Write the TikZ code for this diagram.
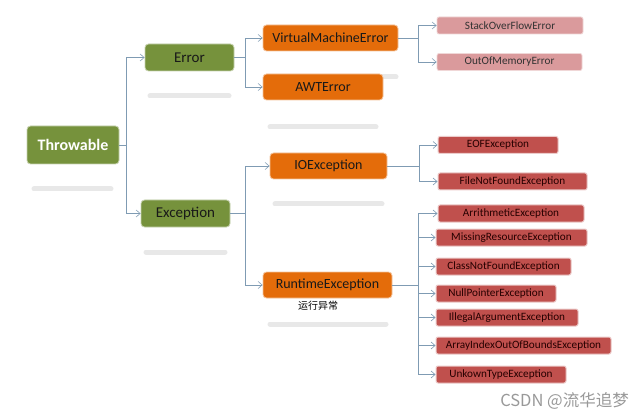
\documentclass[tikz,border=0pt]{standalone}
\usepackage{fontspec}
\setmainfont{Carlito}
\newfontfamily\cjk{Noto Sans CJK SC}
\usetikzlibrary{arrows.meta}
\definecolor{grn}{HTML}{76923C}
\definecolor{orng}{HTML}{E46C0A}
\definecolor{rd}{HTML}{C0504D}
\definecolor{lrd}{HTML}{DA9A9C}
\definecolor{lnc}{HTML}{7F9BB3}
\definecolor{shd}{HTML}{E8E8E8}
\tikzset{
  boxbase/.style={rounded corners=3.5pt, inner sep=0pt, anchor=center},
  gbox/.style={boxbase, fill=grn, draw=grn!40, line width=0.8pt, text=black!90, font=\fontsize{15}{17}\selectfont},
  obox/.style={boxbase, fill=orng, draw=orng!40, line width=0.8pt, minimum height=26pt, text=black!90, font=\fontsize{14}{16}\selectfont},
  rbox/.style={boxbase, rounded corners=2pt, fill=rd, draw=rd!30, line width=1pt, minimum height=17pt, text=black!85!red, font=\fontsize{11.2}{13}\selectfont},
  pbox/.style={boxbase, rounded corners=2pt, fill=lrd, draw=lrd!40, line width=0.8pt, minimum height=17pt, text=black!80, font=\fontsize{11.2}{13}\selectfont},
  conn/.style={draw=lnc, line width=0.6pt, -{Straight Barb[length=4pt,width=7pt]}},
  shadowbar/.style={draw=shd, line width=5pt, line cap=round},
}
\begin{document}
\begin{tikzpicture}[x=1pt,y=-1pt]
\useasboundingbox[fill=white] (0,0) rectangle (643,417);
% blurred reflections
\draw[shadowbar] (34,189) -- (111,189);
\draw[shadowbar] (150,96) -- (229,96);
\draw[shadowbar] (146,252) -- (225,252);
\draw[shadowbar] (268,77) -- (396,77);
\draw[shadowbar] (270,127) -- (376,127);
\draw[shadowbar] (275,204) -- (382,204);
\draw[shadowbar] (270,324) -- (386,324);
% level 0/1
\node[gbox, minimum width=92pt, minimum height=38pt, text=white, font=\fontsize{16}{18}\selectfont\bfseries] (thr) at (73,145) {Throwable};
\node[gbox, minimum width=89pt, minimum height=27pt] (err) at (189.5,57.5) {Error};
\node[gbox, minimum width=89pt, minimum height=27pt] (exc) at (185.5,213.5) {Exception};
% level 2
\node[obox, minimum width=135pt] (vme) at (330.5,38) {VirtualMachineError};
\node[obox, minimum width=120pt] (awt) at (323,87) {AWTError};
\node[obox, minimum width=117pt] (ioe) at (328.5,166) {IOException};
\node[obox, minimum width=129pt] (rte) at (327.5,285) {RuntimeException};
\node[font=\cjk\fontsize{10}{12}\selectfont, inner sep=0pt] (rtl) at (318,306) {运行异常};
% level 3
\node[pbox, minimum width=146pt] (sof) at (510,25.5) {StackOverFlowError};
\node[pbox, minimum width=145pt] (oom) at (509.5,62) {OutOfMemoryError};
\node[rbox, minimum width=120pt] (eof) at (498,145) {EOFException};
\node[rbox, minimum width=149pt] (fnf) at (512.5,181.5) {FileNotFoundException};
\node[rbox, minimum width=146pt] (ari) at (511,213.5) {ArrithmeticException};
\node[rbox, minimum width=151pt] (mis) at (511.5,237.5) {MissingResourceException};
\node[rbox, minimum width=135pt] (cnf) at (503.5,266.5) {ClassNotFoundException};
\node[rbox, minimum width=120pt] (npe) at (496,293.5) {NullPointerException};
\node[rbox, minimum width=142pt] (iae) at (507,317.5) {IllegalArgumentException};
\node[rbox, minimum width=175pt] (aio) at (523.5,345.5) {ArrayIndexOutOfBoundsException};
\node[rbox, minimum width=130pt] (ute) at (501,374.5) {UnkownTypeException};
% connectors
\draw[conn] (thr.east) -- ++(7,0) |- (err.west);
\draw[conn] (thr.east) -- ++(7,0) |- (exc.west);
\draw[conn] (err.east) -- ++(11,0) |- (vme.west);
\draw[conn] (err.east) -- ++(11,0) |- (awt.west);
\draw[conn] (exc.east) -- ++(15,0) |- (ioe.west);
\draw[conn] (exc.east) -- ++(15,0) |- (rte.west);
\draw[conn] (vme.east) -- ++(20,0) |- (sof.west);
\draw[conn] (vme.east) -- ++(20,0) |- (oom.west);
\draw[conn] (ioe.east) -- ++(32,0) |- (eof.west);
\draw[conn] (ioe.east) -- ++(32,0) |- (fnf.west);
\foreach \t in {ari,mis,cnf,npe,iae,aio,ute}
  \draw[conn] (rte.east) -- ++(26,0) |- (\t.west);
% watermark
\node[font=\cjk\fontsize{16.5}{18}\selectfont, text=black!40, anchor=east, inner sep=0pt] (wm) at (629,401) {CSDN @流华追梦};
\end{tikzpicture}
\end{document}
